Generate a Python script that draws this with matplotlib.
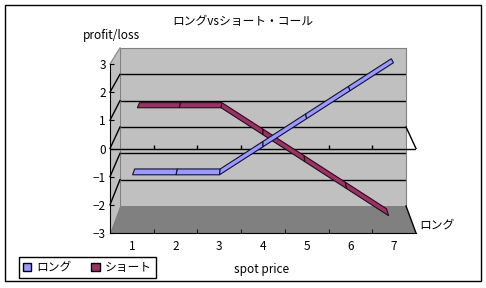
import numpy as np
import matplotlib
matplotlib.use('Agg')
import matplotlib.pyplot as plt
from matplotlib.patches import Polygon, Rectangle, Patch
from matplotlib.lines import Line2D
from matplotlib.transforms import IdentityTransform

plt.rcParams['font.family'] = ['Noto Sans CJK JP', 'DejaVu Sans']
plt.rcParams['font.size'] = 8.5

# data
title = 'ロングvsショート・コール'
spot = [1, 2, 3, 4, 5, 6, 7]
long_pl = [-1, -1, -1, 0, 1, 2, 3]
short_pl = [1, 1, 1, 0, -1, -2, -3]
series_names = ['ロング', 'ショート']
y_ticks = [-3, -2, -1, 0, 1, 2, 3]

W, H = 486, 288
fig = plt.figure(figsize=(W / 100, H / 100), dpi=100)
ID = IdentityTransform()


def rect(l, t, r, b):
    return [l / W, 1 - b / H, (r - l) / W, (b - t) / H]


# back wall and front plane of the 3d box (pixels, top origin)
ax_b = fig.add_axes(rect(120, 48, 406, 206))
ax_f = fig.add_axes(rect(110, 64, 416, 233))
for ax in (ax_b, ax_f):
    ax.set_xlim(0.5, 7.5)
    ax.set_ylim(-3, 3)

ax_b.set_facecolor('#C0C0C0')
ax_b.set_xticks([])
ax_b.set_yticks([])
for s in ('top', 'left', 'right'):
    ax_b.spines[s].set_color('#808080')
ax_b.spines['bottom'].set_visible(False)
ax_b.hlines([-2, -1, 0, 1, 2], 0.5, 7.5, color='black', lw=1)
ax_b.set_zorder(0)


def plane_px(x, y, t):
    pts = np.column_stack([np.atleast_1d(x), np.atleast_1d(y)]).astype(float)
    pf = ax_f.transData.transform(pts)
    pb = ax_b.transData.transform(pts)
    return (1 - t) * pf + t * pb


def side_poly(xa, ya, xb, yb, **kw):
    a = plane_px([xa, xb], [ya, yb], 1.0)
    f = plane_px([xb, xa], [yb, ya], 0.0)
    p = Polygon(np.vstack([a, f]), closed=True, transform=ID, **kw)
    fig.add_artist(p)


# left wall and floor
side_poly(0.5, 3, 0.5, -3, facecolor='#C0C0C0', edgecolor='none', zorder=1)
side_poly(0.5, -3, 7.5, -3, facecolor='#808080', edgecolor='none', zorder=1)


def depth_line(x, y, color='black', lw=1, z=2):
    p = plane_px([x, x], [y, y], 1.0)
    q = plane_px([x, x], [y, y], 0.0)
    fig.add_artist(Line2D([p[0, 0], q[0, 0]], [p[0, 1], q[0, 1]],
                          color=color, lw=lw, transform=ID, zorder=z))


for v in [-2, -1, 0, 1, 2]:
    depth_line(0.5, v)
depth_line(0.5, 3, color='#909090')
depth_line(7.5, 0)
depth_line(7.5, -3)

# front plane: axes, labels, zero axis
ax_f.set_facecolor('none')
ax_f.set_zorder(3)
ax_f.spines['top'].set_visible(False)
ax_f.spines['right'].set_visible(False)
ax_f.set_yticks(y_ticks)
ax_f.set_xticks(spot)
ax_f.set_xticks([1.5, 2.5, 3.5, 4.5, 5.5, 6.5], minor=True)
ax_f.tick_params(axis='y', direction='in', length=3, pad=3, labelsize=8.5)
ax_f.tick_params(axis='x', which='major', length=0, pad=5, labelsize=8.5)
ax_f.tick_params(axis='x', which='minor', direction='in', length=3)
ax_f.axhline(0, color='black', lw=1)
ax_f.vlines([1.5, 2.5, 3.5, 4.5, 5.5, 6.5], 0, 0.11, color='black', lw=1)


def ribbon(yvals, t0, t1, face, edge, z):
    f = plane_px(spot, yvals, t0)
    b = plane_px(spot, yvals, t1)
    for i in range(len(spot) - 1):
        quad = np.array([f[i], f[i + 1], b[i + 1], b[i]])
        fig.add_artist(Polygon(quad, closed=True, transform=ID,
                               facecolor=face, edgecolor=edge, lw=0.8, zorder=z))


ribbon(short_pl, 0.64, 0.9, '#993366', '#2a0a18', 4)
ribbon(long_pl, 0.08, 0.33, '#9999FF', '#101030', 5)

# texts
fig.text(243 / W, 1 - 22 / H, title, ha='center', va='center')
fig.text(111 / W, 1 - 35 / H, 'profit/loss', ha='center', va='center')
fig.text(262 / W, 1 - 270 / H, 'spot price', ha='center', va='center')
fig.text(419 / W, 1 - 225 / H, series_names[0], ha='left', va='center')

handles = [Patch(facecolor='#9999FF', edgecolor='black'),
           Patch(facecolor='#993366', edgecolor='black')]
leg = fig.legend(handles, series_names, loc='lower left',
                 bbox_to_anchor=(19 / W, 1 - 278 / H), ncol=2,
                 frameon=True, fancybox=False, edgecolor='black', framealpha=1,
                 handlelength=0.7, handleheight=0.7, handletextpad=0.4,
                 columnspacing=1.7, borderpad=0.35, borderaxespad=0)
leg.get_frame().set_linewidth(1)

# chart border
fig.add_artist(Rectangle((5 / W, 1 - 281 / H), 476 / W, 276 / H, fill=False,
                         edgecolor='black', lw=1, transform=fig.transFigure))

fig.savefig('out.png', dpi=100)
